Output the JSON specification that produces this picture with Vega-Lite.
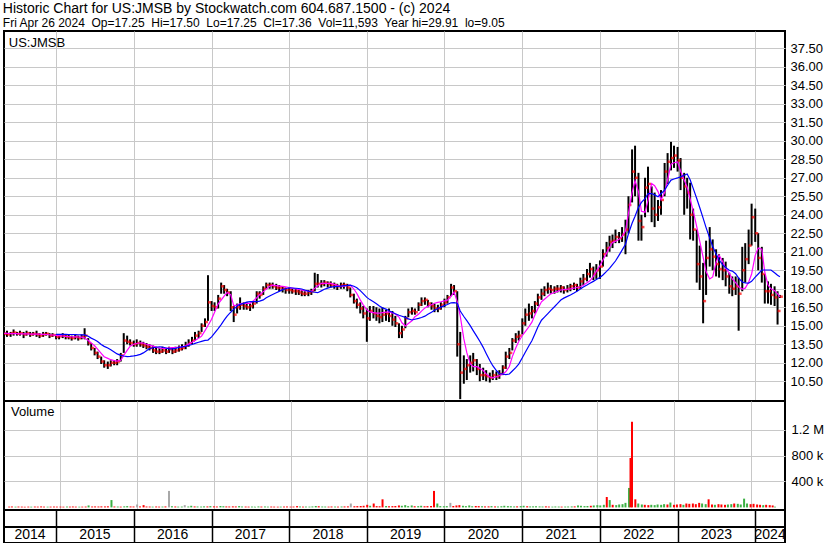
{
"$schema":"https://vega.github.io/schema/vega-lite/v6.json",
"background":"white",
"padding":{"left":0,"top":2,"right":0,"bottom":0},
"spacing":0,
"bounds":"flush",
"title":{"text":"Historic Chart for US:JMSB by Stockwatch.com 604.687.1500 - (c) 2024","subtitle":"Fri Apr 26 2024\u00a0 Op=17.25\u00a0 Hi=17.50\u00a0 Lo=17.25\u00a0 Cl=17.36\u00a0 Vol=11,593\u00a0 Year hi=29.91\u00a0 lo=9.05","anchor":"start","frame":"bounds","offset":1,"dx":2,"fontSize":14,"fontWeight":"normal","font":"Liberation Sans","color":"black","subtitleFont":"Liberation Sans","subtitleFontSize":12,"subtitleFontWeight":"normal","subtitleColor":"black","subtitlePadding":2},
"config":{"view":{"stroke":"black","strokeWidth":2},"axis":{"ticks":false,"domain":false,"labelFont":"Liberation Sans","labelFontSize":13,"labelColor":"black","gridColor":"#c8c8c8","gridWidth":1}},
"datasets":{
"yrs":[{"yr":"2014","s":"2014-05-01","e":"2015-01-01"},{"yr":"2015","s":"2015-01-01","e":"2016-01-01"},{"yr":"2016","s":"2016-01-01","e":"2017-01-01"},{"yr":"2017","s":"2017-01-01","e":"2018-01-01"},{"yr":"2018","s":"2018-01-01","e":"2019-01-01"},{"yr":"2019","s":"2019-01-01","e":"2020-01-01"},{"yr":"2020","s":"2020-01-01","e":"2021-01-01"},{"yr":"2021","s":"2021-01-01","e":"2022-01-01"},{"yr":"2022","s":"2022-01-01","e":"2023-01-01"},{"yr":"2023","s":"2023-01-01","e":"2024-01-01"},{"yr":"2024","s":"2024-01-01","e":"2024-05-20"}],
"px":[
{"t":"2014-05-02","h":14.5,"l":14.2,"c":14.35,"ma1":14.38,"v":12000,"d":"d"},
{"t":"2014-05-15","h":14.6,"l":14.1,"c":14.3,"ma1":14.38,"v":14000,"d":"d"},
{"t":"2014-06-01","h":14.5,"l":14.1,"c":14.4,"ma1":14.37,"v":11000,"d":"u"},
{"t":"2014-06-15","h":14.7,"l":14.2,"c":14.45,"ma1":14.36,"v":13000,"d":"d"},
{"t":"2014-07-01","h":14.5,"l":14.2,"c":14.35,"ma1":14.36,"v":12000,"d":"d"},
{"t":"2014-07-15","h":14.6,"l":14.2,"c":14.4,"ma1":14.35,"v":10000,"d":"d"},
{"t":"2014-08-01","h":14.5,"l":14.0,"c":14.3,"ma1":14.35,"v":12000,"d":"d"},
{"t":"2014-08-15","h":14.6,"l":14.2,"c":14.4,"ma1":14.34,"v":11000,"d":"u"},
{"t":"2014-09-01","h":14.5,"l":14.1,"c":14.3,"ma1":14.33,"v":13000,"d":"d"},
{"t":"2014-09-15","h":14.5,"l":14.2,"c":14.35,"ma1":14.33,"v":12000,"d":"d"},
{"t":"2014-10-01","h":14.6,"l":14.1,"c":14.3,"ma1":14.32,"v":15000,"d":"d"},
{"t":"2014-10-15","h":14.4,"l":14.0,"c":14.2,"ma1":14.32,"v":12000,"d":"d"},
{"t":"2014-11-01","h":14.5,"l":14.1,"c":14.3,"ma1":14.31,"v":11000,"d":"u"},
{"t":"2014-11-15","h":14.5,"l":14.2,"c":14.35,"ma1":14.29,"v":12000,"d":"d"},
{"t":"2014-12-01","h":14.4,"l":14.0,"c":14.2,"ma1":14.27,"v":13000,"d":"d"},
{"t":"2014-12-15","h":14.4,"l":14.1,"c":14.25,"ma1":14.25,"v":12000,"d":"d"},
{"t":"2015-01-01","h":14.3,"l":13.9,"c":14.1,"ma1":14.22,"ma2":14.31,"v":12000,"d":"d"},
{"t":"2015-01-15","h":14.3,"l":13.9,"c":14.15,"ma1":14.2,"ma2":14.31,"v":11000,"d":"d"},
{"t":"2015-02-01","h":14.4,"l":14.0,"c":14.2,"ma1":14.17,"ma2":14.3,"v":13000,"d":"u"},
{"t":"2015-02-15","h":14.3,"l":13.9,"c":14.1,"ma1":14.14,"ma2":14.3,"v":12000,"d":"d"},
{"t":"2015-03-01","h":14.3,"l":13.9,"c":14.05,"ma1":14.12,"ma2":14.29,"v":14000,"d":"d"},
{"t":"2015-03-15","h":14.2,"l":13.8,"c":14.0,"ma1":14.11,"ma2":14.29,"v":12000,"d":"d"},
{"t":"2015-04-01","h":14.3,"l":13.9,"c":14.1,"ma1":14.1,"ma2":14.28,"v":11000,"d":"u"},
{"t":"2015-04-15","h":14.2,"l":13.8,"c":14.0,"ma1":14.09,"ma2":14.27,"v":12000,"d":"d"},
{"t":"2015-05-01","h":14.3,"l":13.9,"c":14.1,"ma1":14.08,"ma2":14.26,"v":13000,"d":"d"},
{"t":"2015-05-15","h":14.8,"l":13.9,"c":14.2,"ma1":14.01,"ma2":14.26,"v":30000,"d":"u"},
{"t":"2015-06-01","h":14.0,"l":13.4,"c":13.6,"ma1":13.8,"ma2":14.15,"v":14000,"d":"d"},
{"t":"2015-06-15","h":13.6,"l":13.0,"c":13.2,"ma1":13.61,"ma2":14.0,"v":15000,"d":"d"},
{"t":"2015-07-01","h":13.2,"l":12.6,"c":12.8,"ma1":13.38,"ma2":13.87,"v":14000,"d":"d"},
{"t":"2015-07-15","h":12.9,"l":12.3,"c":12.5,"ma1":13.1,"ma2":13.73,"v":16000,"d":"d"},
{"t":"2015-08-01","h":12.5,"l":11.9,"c":12.1,"ma1":12.76,"ma2":13.48,"v":15000,"d":"d"},
{"t":"2015-08-15","h":12.2,"l":11.6,"c":11.8,"ma1":12.49,"ma2":13.33,"v":17000,"d":"d"},
{"t":"2015-09-01","h":12.1,"l":11.5,"c":11.8,"ma1":12.36,"ma2":13.2,"v":113000,"d":"u"},
{"t":"2015-09-15","h":12.2,"l":11.7,"c":12.0,"ma1":12.25,"ma2":13.05,"v":14000,"d":"d"},
{"t":"2015-10-01","h":12.2,"l":11.8,"c":12.0,"ma1":12.18,"ma2":12.88,"v":13000,"d":"u"},
{"t":"2015-10-15","h":12.3,"l":11.8,"c":12.1,"ma1":12.13,"ma2":12.72,"v":12000,"d":"d"},
{"t":"2015-11-01","h":12.8,"l":12.1,"c":12.6,"ma1":12.2,"ma2":12.6,"v":16000,"d":"u"},
{"t":"2015-11-15","h":14.4,"l":12.8,"c":13.8,"ma1":12.6,"ma2":12.55,"v":20000,"d":"u"},
{"t":"2015-12-01","h":14.2,"l":13.5,"c":13.7,"ma1":13.0,"ma2":12.5,"v":15000,"d":"d"},
{"t":"2015-12-15","h":13.9,"l":13.4,"c":13.6,"ma1":13.35,"ma2":12.52,"v":14000,"d":"d"},
{"t":"2016-01-01","h":13.8,"l":13.3,"c":13.5,"ma1":13.5,"ma2":12.56,"v":45000,"d":"n"},
{"t":"2016-01-15","h":13.9,"l":13.3,"c":13.6,"ma1":13.56,"ma2":12.6,"v":15000,"d":"d"},
{"t":"2016-02-01","h":13.8,"l":13.3,"c":13.5,"ma1":13.62,"ma2":12.68,"v":35000,"d":"d"},
{"t":"2016-02-15","h":13.7,"l":13.2,"c":13.4,"ma1":13.6,"ma2":12.8,"v":14000,"d":"d"},
{"t":"2016-03-01","h":13.6,"l":13.1,"c":13.3,"ma1":13.5,"ma2":12.98,"v":13000,"d":"d"},
{"t":"2016-03-15","h":13.5,"l":13.0,"c":13.2,"ma1":13.43,"ma2":13.15,"v":12000,"d":"u"},
{"t":"2016-04-01","h":13.4,"l":12.8,"c":13.0,"ma1":13.35,"ma2":13.22,"v":14000,"d":"d"},
{"t":"2016-04-15","h":13.3,"l":12.7,"c":12.9,"ma1":13.27,"ma2":13.26,"v":12000,"d":"d"},
{"t":"2016-05-01","h":13.2,"l":12.7,"c":12.9,"ma1":13.19,"ma2":13.3,"v":13000,"d":"u"},
{"t":"2016-05-15","h":13.3,"l":12.8,"c":13.0,"ma1":13.16,"ma2":13.28,"v":15000,"d":"d"},
{"t":"2016-06-01","h":13.2,"l":12.7,"c":12.9,"ma1":13.17,"ma2":13.2,"v":254000,"d":"n"},
{"t":"2016-06-15","h":13.3,"l":12.8,"c":13.1,"ma1":13.2,"ma2":13.13,"v":18000,"d":"u"},
{"t":"2016-07-01","h":13.2,"l":12.7,"c":12.9,"ma1":13.22,"ma2":13.12,"v":14000,"d":"d"},
{"t":"2016-07-15","h":13.3,"l":12.8,"c":13.0,"ma1":13.24,"ma2":13.17,"v":12000,"d":"u"},
{"t":"2016-08-01","h":13.4,"l":12.9,"c":13.1,"ma1":13.27,"ma2":13.24,"v":13000,"d":"u"},
{"t":"2016-08-15","h":13.5,"l":13.0,"c":13.2,"ma1":13.29,"ma2":13.29,"v":35000,"d":"n"},
{"t":"2016-09-01","h":13.7,"l":13.1,"c":13.4,"ma1":13.37,"ma2":13.33,"v":14000,"d":"u"},
{"t":"2016-09-15","h":13.9,"l":13.3,"c":13.6,"ma1":13.51,"ma2":13.4,"v":25000,"d":"u"},
{"t":"2016-10-01","h":14.1,"l":13.5,"c":13.8,"ma1":13.67,"ma2":13.48,"v":15000,"d":"d"},
{"t":"2016-10-15","h":14.5,"l":13.8,"c":14.2,"ma1":13.81,"ma2":13.57,"v":14000,"d":"u"},
{"t":"2016-11-01","h":14.6,"l":14.0,"c":14.4,"ma1":13.98,"ma2":13.66,"v":13000,"d":"u"},
{"t":"2016-11-15","h":15.2,"l":14.5,"c":15.0,"ma1":14.16,"ma2":13.74,"v":16000,"d":"u"},
{"t":"2016-12-01","h":15.6,"l":14.9,"c":15.3,"ma1":14.61,"ma2":13.82,"v":15000,"d":"d"},
{"t":"2016-12-15","h":19.1,"l":15.4,"c":16.9,"ma1":15.02,"ma2":13.84,"v":20000,"d":"u"},
{"t":"2017-01-01","h":17.0,"l":16.2,"c":16.6,"ma1":15.52,"ma2":14.1,"v":16000,"d":"d"},
{"t":"2017-01-15","h":16.9,"l":16.2,"c":16.5,"ma1":16.1,"ma2":14.4,"v":14000,"d":"d"},
{"t":"2017-02-01","h":17.5,"l":16.4,"c":17.2,"ma1":16.78,"ma2":14.77,"v":22000,"d":"u"},
{"t":"2017-02-15","h":18.5,"l":17.6,"c":18.2,"ma1":17.08,"ma2":15.1,"v":18000,"d":"u"},
{"t":"2017-03-01","h":18.3,"l":17.6,"c":17.9,"ma1":17.41,"ma2":15.46,"v":15000,"d":"d"},
{"t":"2017-03-15","h":18.0,"l":17.4,"c":17.7,"ma1":17.7,"ma2":15.79,"v":14000,"d":"d"},
{"t":"2017-04-01","h":17.8,"l":16.2,"c":16.5,"ma1":17.52,"ma2":16.1,"v":16000,"d":"d"},
{"t":"2017-04-15","h":16.6,"l":15.3,"c":15.9,"ma1":16.63,"ma2":16.33,"v":15000,"d":"d"},
{"t":"2017-05-01","h":16.8,"l":16.0,"c":16.5,"ma1":16.67,"ma2":16.6,"v":20000,"d":"u"},
{"t":"2017-05-15","h":17.3,"l":16.3,"c":16.7,"ma1":16.79,"ma2":16.74,"v":14000,"d":"u"},
{"t":"2017-06-01","h":16.9,"l":16.3,"c":16.6,"ma1":16.82,"ma2":16.82,"v":13000,"d":"d"},
{"t":"2017-06-15","h":16.9,"l":16.3,"c":16.5,"ma1":16.82,"ma2":16.92,"v":12000,"d":"d"},
{"t":"2017-07-01","h":16.8,"l":16.2,"c":16.6,"ma1":16.82,"ma2":16.95,"v":13000,"d":"u"},
{"t":"2017-07-15","h":17.0,"l":16.4,"c":16.8,"ma1":17.0,"ma2":16.95,"v":12000,"d":"u"},
{"t":"2017-08-01","h":17.8,"l":16.8,"c":17.6,"ma1":17.27,"ma2":16.95,"v":15000,"d":"u"},
{"t":"2017-08-15","h":17.8,"l":17.2,"c":17.5,"ma1":17.52,"ma2":17.0,"v":13000,"d":"d"},
{"t":"2017-09-01","h":18.2,"l":17.5,"c":18.0,"ma1":17.77,"ma2":17.1,"v":14000,"d":"u"},
{"t":"2017-09-15","h":18.5,"l":18.0,"c":18.3,"ma1":17.97,"ma2":17.27,"v":12000,"d":"u"},
{"t":"2017-10-01","h":18.5,"l":18.0,"c":18.3,"ma1":18.21,"ma2":17.42,"v":13000,"d":"d"},
{"t":"2017-10-15","h":18.5,"l":18.0,"c":18.2,"ma1":18.29,"ma2":17.54,"v":12000,"d":"d"},
{"t":"2017-11-01","h":18.4,"l":17.9,"c":18.1,"ma1":18.25,"ma2":17.68,"v":11000,"d":"d"},
{"t":"2017-11-15","h":18.3,"l":17.8,"c":18.1,"ma1":18.22,"ma2":17.79,"v":12000,"d":"u"},
{"t":"2017-12-01","h":18.2,"l":17.7,"c":18.0,"ma1":18.19,"ma2":17.93,"v":13000,"d":"d"},
{"t":"2017-12-15","h":18.1,"l":17.6,"c":17.9,"ma1":18.15,"ma2":18.0,"v":14000,"d":"d"},
{"t":"2018-01-01","h":18.1,"l":17.6,"c":17.9,"ma1":18.1,"ma2":18.08,"v":12000,"d":"d"},
{"t":"2018-01-15","h":18.0,"l":17.6,"c":17.8,"ma1":18.05,"ma2":18.06,"v":13000,"d":"d"},
{"t":"2018-02-01","h":18.0,"l":17.5,"c":17.8,"ma1":17.99,"ma2":18.04,"v":20000,"d":"d"},
{"t":"2018-02-15","h":17.9,"l":17.5,"c":17.7,"ma1":17.94,"ma2":18.02,"v":14000,"d":"u"},
{"t":"2018-03-01","h":17.9,"l":17.4,"c":17.6,"ma1":17.89,"ma2":17.98,"v":12000,"d":"d"},
{"t":"2018-03-15","h":17.8,"l":17.4,"c":17.6,"ma1":17.85,"ma2":17.9,"v":13000,"d":"u"},
{"t":"2018-04-01","h":17.9,"l":17.4,"c":17.7,"ma1":17.8,"ma2":17.81,"v":12000,"d":"u"},
{"t":"2018-04-15","h":18.0,"l":17.5,"c":17.8,"ma1":17.79,"ma2":17.76,"v":15000,"d":"u"},
{"t":"2018-05-01","h":19.3,"l":17.8,"c":18.4,"ma1":18.03,"ma2":17.72,"v":22000,"d":"u"},
{"t":"2018-05-15","h":19.2,"l":18.1,"c":18.4,"ma1":18.24,"ma2":17.68,"v":18000,"d":"d"},
{"t":"2018-06-01","h":18.7,"l":18.1,"c":18.4,"ma1":18.44,"ma2":17.83,"v":14000,"d":"u"},
{"t":"2018-06-15","h":18.7,"l":18.2,"c":18.5,"ma1":18.44,"ma2":17.96,"v":13000,"d":"u"},
{"t":"2018-07-01","h":18.6,"l":18.1,"c":18.4,"ma1":18.44,"ma2":18.05,"v":12000,"d":"d"},
{"t":"2018-07-15","h":18.6,"l":18.1,"c":18.3,"ma1":18.44,"ma2":18.13,"v":14000,"d":"d"},
{"t":"2018-08-01","h":18.5,"l":18.0,"c":18.3,"ma1":18.36,"ma2":18.17,"v":13000,"d":"u"},
{"t":"2018-08-15","h":18.4,"l":17.9,"c":18.2,"ma1":18.28,"ma2":18.2,"v":12000,"d":"d"},
{"t":"2018-09-01","h":18.5,"l":18.0,"c":18.3,"ma1":18.18,"ma2":18.22,"v":14000,"d":"u"},
{"t":"2018-09-15","h":18.5,"l":18.0,"c":18.3,"ma1":18.22,"ma2":18.25,"v":15000,"d":"d"},
{"t":"2018-10-01","h":18.4,"l":17.8,"c":18.1,"ma1":18.25,"ma2":18.27,"v":16000,"d":"d"},
{"t":"2018-10-15","h":18.1,"l":17.3,"c":17.5,"ma1":18.29,"ma2":18.3,"v":60000,"d":"n"},
{"t":"2018-11-01","h":17.6,"l":16.8,"c":17.0,"ma1":17.98,"ma2":18.2,"v":18000,"d":"d"},
{"t":"2018-11-15","h":17.2,"l":16.4,"c":16.7,"ma1":17.62,"ma2":18.08,"v":20000,"d":"d"},
{"t":"2018-12-01","h":16.9,"l":16.0,"c":16.4,"ma1":17.1,"ma2":17.85,"v":22000,"d":"d"},
{"t":"2018-12-15","h":16.6,"l":15.6,"c":16.0,"ma1":16.7,"ma2":17.6,"v":25000,"d":"d"},
{"t":"2019-01-01","h":16.4,"l":13.7,"c":15.6,"ma1":16.3,"ma2":17.3,"v":40000,"d":"d"},
{"t":"2019-01-15","h":16.6,"l":15.4,"c":16.2,"ma1":16.12,"ma2":17.12,"v":25000,"d":"u"},
{"t":"2019-02-01","h":16.6,"l":15.6,"c":16.0,"ma1":16.07,"ma2":16.94,"v":60000,"d":"d"},
{"t":"2019-02-15","h":16.5,"l":15.4,"c":15.8,"ma1":16.03,"ma2":16.78,"v":20000,"d":"d"},
{"t":"2019-03-01","h":16.4,"l":15.2,"c":15.7,"ma1":16.02,"ma2":16.6,"v":18000,"d":"d"},
{"t":"2019-03-15","h":16.5,"l":15.3,"c":15.9,"ma1":16.06,"ma2":16.45,"v":125000,"d":"d"},
{"t":"2019-04-01","h":16.3,"l":15.4,"c":16.0,"ma1":16.11,"ma2":16.35,"v":22000,"d":"u"},
{"t":"2019-04-15","h":16.4,"l":15.3,"c":15.8,"ma1":16.12,"ma2":16.22,"v":18000,"d":"d"},
{"t":"2019-05-01","h":16.2,"l":15.0,"c":15.5,"ma1":16.05,"ma2":16.1,"v":20000,"d":"d"},
{"t":"2019-05-15","h":15.8,"l":14.9,"c":15.2,"ma1":15.96,"ma2":15.98,"v":22000,"d":"d"},
{"t":"2019-06-01","h":15.2,"l":14.0,"c":14.4,"ma1":15.71,"ma2":15.85,"v":30000,"d":"d"},
{"t":"2019-06-15","h":15.0,"l":14.0,"c":14.7,"ma1":15.24,"ma2":15.77,"v":25000,"d":"u"},
{"t":"2019-07-01","h":15.8,"l":14.8,"c":15.6,"ma1":14.99,"ma2":15.68,"v":35000,"d":"u"},
{"t":"2019-07-15","h":16.4,"l":15.7,"c":16.1,"ma1":15.18,"ma2":15.56,"v":20000,"d":"u"},
{"t":"2019-08-01","h":16.5,"l":15.9,"c":16.2,"ma1":15.41,"ma2":15.47,"v":30000,"d":"u"},
{"t":"2019-08-15","h":16.4,"l":15.9,"c":16.1,"ma1":15.74,"ma2":15.53,"v":18000,"d":"d"},
{"t":"2019-09-01","h":16.9,"l":16.2,"c":16.7,"ma1":15.94,"ma2":15.6,"v":20000,"d":"u"},
{"t":"2019-09-15","h":17.3,"l":16.6,"c":17.0,"ma1":16.19,"ma2":15.67,"v":25000,"d":"u"},
{"t":"2019-10-01","h":17.3,"l":16.7,"c":17.1,"ma1":16.45,"ma2":15.78,"v":18000,"d":"d"},
{"t":"2019-10-15","h":17.1,"l":16.5,"c":16.8,"ma1":16.57,"ma2":15.93,"v":20000,"d":"d"},
{"t":"2019-11-01","h":16.9,"l":16.3,"c":16.6,"ma1":16.71,"ma2":16.1,"v":22000,"d":"d"},
{"t":"2019-11-15","h":16.8,"l":16.1,"c":16.4,"ma1":16.83,"ma2":16.26,"v":254000,"d":"d"},
{"t":"2019-12-01","h":16.7,"l":16.1,"c":16.4,"ma1":16.9,"ma2":16.4,"v":60000,"d":"u"},
{"t":"2019-12-15","h":16.9,"l":16.3,"c":16.7,"ma1":16.95,"ma2":16.51,"v":20000,"d":"u"},
{"t":"2020-01-01","h":17.2,"l":16.5,"c":16.9,"ma1":17.02,"ma2":16.63,"v":18000,"d":"u"},
{"t":"2020-01-15","h":17.5,"l":16.8,"c":17.3,"ma1":17.08,"ma2":16.72,"v":20000,"d":"u"},
{"t":"2020-02-01","h":18.4,"l":17.4,"c":18.1,"ma1":17.39,"ma2":16.86,"v":70000,"d":"n"},
{"t":"2020-02-15","h":18.3,"l":17.5,"c":17.8,"ma1":17.74,"ma2":16.87,"v":22000,"d":"d"},
{"t":"2020-03-01","h":17.8,"l":12.5,"c":13.5,"ma1":16.96,"ma2":16.83,"v":30000,"d":"d"},
{"t":"2020-03-15","h":14.5,"l":9.05,"c":11.2,"ma1":15.8,"ma2":16.2,"v":35000,"d":"d"},
{"t":"2020-04-01","h":12.6,"l":10.3,"c":11.5,"ma1":13.93,"ma2":15.75,"v":25000,"d":"u"},
{"t":"2020-04-15","h":12.3,"l":10.6,"c":11.8,"ma1":12.82,"ma2":15.41,"v":20000,"d":"u"},
{"t":"2020-05-01","h":12.6,"l":11.2,"c":12.0,"ma1":11.9,"ma2":15.01,"v":30000,"d":"u"},
{"t":"2020-05-15","h":12.8,"l":11.3,"c":12.2,"ma1":11.68,"ma2":14.61,"v":18000,"d":"u"},
{"t":"2020-06-01","h":12.3,"l":11.0,"c":11.5,"ma1":11.68,"ma2":14.14,"v":22000,"d":"d"},
{"t":"2020-06-15","h":11.9,"l":10.5,"c":11.0,"ma1":11.56,"ma2":13.75,"v":20000,"d":"d"},
{"t":"2020-07-01","h":11.6,"l":10.6,"c":11.0,"ma1":11.37,"ma2":13.25,"v":18000,"d":"u"},
{"t":"2020-07-15","h":11.4,"l":10.5,"c":10.9,"ma1":11.1,"ma2":12.76,"v":15000,"d":"d"},
{"t":"2020-08-01","h":11.2,"l":10.4,"c":10.8,"ma1":10.84,"ma2":12.19,"v":16000,"d":"d"},
{"t":"2020-08-15","h":11.4,"l":10.6,"c":11.0,"ma1":10.78,"ma2":11.76,"v":20000,"d":"u"},
{"t":"2020-09-01","h":11.3,"l":10.6,"c":10.9,"ma1":10.87,"ma2":11.37,"v":15000,"d":"d"},
{"t":"2020-09-15","h":11.4,"l":10.7,"c":11.1,"ma1":10.95,"ma2":11.12,"v":14000,"d":"u"},
{"t":"2020-10-01","h":11.8,"l":11.0,"c":11.6,"ma1":11.09,"ma2":11.09,"v":18000,"d":"u"},
{"t":"2020-10-15","h":12.9,"l":11.5,"c":12.5,"ma1":11.27,"ma2":11.04,"v":25000,"d":"u"},
{"t":"2020-11-01","h":13.2,"l":12.3,"c":12.8,"ma1":11.7,"ma2":11.09,"v":20000,"d":"u"},
{"t":"2020-11-15","h":14.0,"l":13.0,"c":13.8,"ma1":12.5,"ma2":11.33,"v":18000,"d":"u"},
{"t":"2020-12-01","h":14.4,"l":13.6,"c":14.1,"ma1":13.2,"ma2":11.6,"v":15000,"d":"u"},
{"t":"2020-12-15","h":14.6,"l":13.8,"c":14.2,"ma1":13.72,"ma2":11.89,"v":16000,"d":"d"},
{"t":"2021-01-01","h":15.6,"l":14.3,"c":15.2,"ma1":14.21,"ma2":12.41,"v":20000,"d":"u"},
{"t":"2021-01-15","h":16.4,"l":15.0,"c":15.9,"ma1":14.53,"ma2":12.86,"v":25000,"d":"u"},
{"t":"2021-02-01","h":16.8,"l":15.4,"c":16.0,"ma1":14.92,"ma2":13.38,"v":18000,"d":"d"},
{"t":"2021-02-15","h":16.6,"l":15.6,"c":16.2,"ma1":15.29,"ma2":13.78,"v":15000,"d":"u"},
{"t":"2021-03-01","h":17.0,"l":16.0,"c":16.8,"ma1":15.88,"ma2":14.33,"v":16000,"d":"u"},
{"t":"2021-03-15","h":17.6,"l":16.6,"c":17.3,"ma1":16.39,"ma2":14.9,"v":18000,"d":"u"},
{"t":"2021-04-01","h":18.0,"l":17.1,"c":17.6,"ma1":16.94,"ma2":15.45,"v":15000,"d":"u"},
{"t":"2021-04-15","h":18.2,"l":17.4,"c":17.9,"ma1":17.15,"ma2":15.7,"v":14000,"d":"u"},
{"t":"2021-05-01","h":18.5,"l":17.6,"c":18.0,"ma1":17.38,"ma2":15.99,"v":16000,"d":"d"},
{"t":"2021-05-15","h":18.3,"l":17.6,"c":17.9,"ma1":17.59,"ma2":16.25,"v":13000,"d":"d"},
{"t":"2021-06-01","h":18.2,"l":17.6,"c":18.0,"ma1":17.7,"ma2":16.54,"v":12000,"d":"u"},
{"t":"2021-06-15","h":18.3,"l":17.7,"c":18.0,"ma1":17.79,"ma2":16.79,"v":14000,"d":"u"},
{"t":"2021-07-01","h":18.3,"l":17.7,"c":18.1,"ma1":17.9,"ma2":17.09,"v":13000,"d":"u"},
{"t":"2021-07-15","h":18.2,"l":17.6,"c":17.9,"ma1":17.93,"ma2":17.24,"v":12000,"d":"d"},
{"t":"2021-08-01","h":18.3,"l":17.7,"c":18.0,"ma1":17.96,"ma2":17.38,"v":13000,"d":"u"},
{"t":"2021-08-15","h":18.4,"l":17.8,"c":18.2,"ma1":17.99,"ma2":17.5,"v":14000,"d":"u"},
{"t":"2021-09-01","h":18.5,"l":17.9,"c":18.3,"ma1":18.05,"ma2":17.66,"v":15000,"d":"u"},
{"t":"2021-09-15","h":18.4,"l":17.8,"c":18.1,"ma1":18.1,"ma2":17.8,"v":16000,"d":"d"},
{"t":"2021-10-01","h":18.9,"l":18.0,"c":18.6,"ma1":18.16,"ma2":17.99,"v":30000,"d":"u"},
{"t":"2021-10-15","h":19.2,"l":18.3,"c":18.8,"ma1":18.29,"ma2":18.14,"v":25000,"d":"u"},
{"t":"2021-11-01","h":19.6,"l":18.6,"c":19.2,"ma1":18.48,"ma2":18.3,"v":20000,"d":"u"},
{"t":"2021-11-15","h":20.1,"l":18.9,"c":19.6,"ma1":18.64,"ma2":18.44,"v":22000,"d":"u"},
{"t":"2021-12-01","h":19.8,"l":18.7,"c":19.2,"ma1":19.01,"ma2":18.6,"v":25000,"d":"d"},
{"t":"2021-12-15","h":20.0,"l":18.8,"c":19.5,"ma1":19.41,"ma2":18.75,"v":30000,"d":"u"},
{"t":"2022-01-01","h":20.3,"l":18.8,"c":19.8,"ma1":19.88,"ma2":18.92,"v":35000,"d":"u"},
{"t":"2022-01-15","h":21.2,"l":19.8,"c":20.8,"ma1":20.33,"ma2":19.12,"v":30000,"d":"u"},
{"t":"2022-02-01","h":21.8,"l":20.6,"c":21.3,"ma1":20.89,"ma2":19.41,"v":40000,"d":"u"},
{"t":"2022-02-15","h":22.3,"l":21.0,"c":21.8,"ma1":21.37,"ma2":19.66,"v":160000,"d":"d"},
{"t":"2022-03-01","h":22.4,"l":21.3,"c":21.9,"ma1":21.75,"ma2":19.95,"v":113000,"d":"u"},
{"t":"2022-03-15","h":22.8,"l":21.7,"c":22.2,"ma1":21.86,"ma2":20.25,"v":40000,"d":"d"},
{"t":"2022-04-01","h":22.6,"l":21.7,"c":22.1,"ma1":22.01,"ma2":20.73,"v":35000,"d":"u"},
{"t":"2022-04-15","h":23.0,"l":21.8,"c":22.4,"ma1":22.24,"ma2":21.13,"v":45000,"d":"u"},
{"t":"2022-05-01","h":23.6,"l":20.8,"c":22.8,"ma1":22.69,"ma2":21.61,"v":50000,"d":"u"},
{"t":"2022-05-15","h":25.5,"l":22.5,"c":24.8,"ma1":24.11,"ma2":22.46,"v":70000,"d":"u"},
{"t":"2022-06-01","h":29.3,"l":25.0,"c":27.5,"ma1":25.79,"ma2":23.31,"v":300000,"d":"u"},
{"t":"2022-06-15","h":29.6,"l":25.5,"c":27.0,"ma1":26.76,"ma2":23.88,"v":1320000,"d":"d"},
{"t":"2022-07-01","h":27.4,"l":21.9,"c":23.5,"ma1":25.87,"ma2":24.6,"v":125000,"d":"d"},
{"t":"2022-07-15","h":24.0,"l":21.9,"c":23.0,"ma1":24.28,"ma2":25.0,"v":60000,"d":"u"},
{"t":"2022-08-01","h":27.0,"l":23.8,"c":26.2,"ma1":24.21,"ma2":25.3,"v":45000,"d":"u"},
{"t":"2022-08-15","h":27.9,"l":24.2,"c":26.5,"ma1":25.17,"ma2":25.72,"v":40000,"d":"d"},
{"t":"2022-09-01","h":26.3,"l":23.4,"c":24.5,"ma1":26.53,"ma2":25.72,"v":35000,"d":"d"},
{"t":"2022-09-15","h":25.8,"l":23.0,"c":24.0,"ma1":26.36,"ma2":25.61,"v":40000,"d":"u"},
{"t":"2022-10-01","h":25.2,"l":23.5,"c":24.6,"ma1":25.88,"ma2":25.46,"v":35000,"d":"u"},
{"t":"2022-10-15","h":26.0,"l":24.0,"c":25.2,"ma1":25.22,"ma2":25.7,"v":45000,"d":"u"},
{"t":"2022-11-01","h":28.2,"l":25.5,"c":27.5,"ma1":25.8,"ma2":26.0,"v":40000,"d":"u"},
{"t":"2022-11-15","h":29.0,"l":26.5,"c":28.3,"ma1":26.84,"ma2":26.39,"v":50000,"d":"u"},
{"t":"2022-12-01","h":29.91,"l":27.6,"c":28.6,"ma1":28.1,"ma2":26.81,"v":45000,"d":"d"},
{"t":"2022-12-15","h":29.6,"l":27.8,"c":28.8,"ma1":28.22,"ma2":26.9,"v":75000,"d":"u"},
{"t":"2023-01-01","h":29.5,"l":27.5,"c":28.4,"ma1":28.29,"ma2":26.99,"v":40000,"d":"d"},
{"t":"2023-01-15","h":28.6,"l":26.0,"c":27.0,"ma1":27.55,"ma2":27.07,"v":45000,"d":"d"},
{"t":"2023-02-01","h":27.4,"l":24.0,"c":26.3,"ma1":26.82,"ma2":27.2,"v":50000,"d":"d"},
{"t":"2023-02-15","h":27.0,"l":24.5,"c":25.8,"ma1":26.23,"ma2":27.31,"v":40000,"d":"u"},
{"t":"2023-03-01","h":26.6,"l":22.0,"c":24.0,"ma1":25.28,"ma2":26.84,"v":60000,"d":"d"},
{"t":"2023-03-15","h":24.5,"l":21.9,"c":22.8,"ma1":24.34,"ma2":26.16,"v":55000,"d":"d"},
{"t":"2023-04-01","h":22.8,"l":18.5,"c":20.0,"ma1":23.04,"ma2":25.32,"v":60000,"d":"d"},
{"t":"2023-04-15","h":21.5,"l":17.9,"c":19.0,"ma1":21.87,"ma2":24.59,"v":50000,"d":"d"},
{"t":"2023-05-01","h":20.1,"l":15.2,"c":17.0,"ma1":20.56,"ma2":23.73,"v":70000,"d":"d"},
{"t":"2023-05-15","h":21.9,"l":17.5,"c":20.5,"ma1":19.4,"ma2":22.96,"v":60000,"d":"u"},
{"t":"2023-06-01","h":23.0,"l":19.8,"c":21.2,"ma1":18.8,"ma2":22.11,"v":50000,"d":"u"},
{"t":"2023-06-15","h":22.0,"l":19.5,"c":20.6,"ma1":18.96,"ma2":21.43,"v":125000,"d":"d"},
{"t":"2023-07-01","h":21.2,"l":19.0,"c":20.0,"ma1":20.15,"ma2":20.82,"v":45000,"d":"d"},
{"t":"2023-07-15","h":20.8,"l":18.9,"c":19.6,"ma1":20.72,"ma2":20.35,"v":40000,"d":"u"},
{"t":"2023-08-01","h":20.5,"l":18.7,"c":19.5,"ma1":20.2,"ma2":19.94,"v":50000,"d":"d"},
{"t":"2023-08-15","h":20.2,"l":18.2,"c":19.0,"ma1":19.65,"ma2":19.73,"v":45000,"d":"d"},
{"t":"2023-09-01","h":19.3,"l":17.6,"c":18.2,"ma1":19.27,"ma2":19.5,"v":40000,"d":"d"},
{"t":"2023-09-15","h":19.0,"l":17.4,"c":18.0,"ma1":18.8,"ma2":19.43,"v":45000,"d":"u"},
{"t":"2023-10-01","h":19.0,"l":17.5,"c":18.2,"ma1":18.49,"ma2":19.22,"v":50000,"d":"u"},
{"t":"2023-10-15","h":18.9,"l":14.6,"c":17.6,"ma1":18.15,"ma2":18.87,"v":60000,"d":"d"},
{"t":"2023-11-01","h":21.4,"l":17.8,"c":19.5,"ma1":17.98,"ma2":18.55,"v":55000,"d":"u"},
{"t":"2023-11-15","h":21.7,"l":18.5,"c":20.4,"ma1":18.05,"ma2":18.48,"v":45000,"d":"u"},
{"t":"2023-12-01","h":22.8,"l":20.0,"c":21.5,"ma1":18.53,"ma2":18.45,"v":135000,"d":"u"},
{"t":"2023-12-15","h":24.9,"l":21.5,"c":23.8,"ma1":19.2,"ma2":18.6,"v":60000,"d":"u"},
{"t":"2024-01-01","h":24.5,"l":21.8,"c":22.5,"ma1":20.71,"ma2":18.95,"v":50000,"d":"d"},
{"t":"2024-01-15","h":22.5,"l":19.5,"c":20.5,"ma1":21.3,"ma2":19.2,"v":55000,"d":"d"},
{"t":"2024-02-01","h":21.4,"l":18.5,"c":19.2,"ma1":21.2,"ma2":19.52,"v":45000,"d":"d"},
{"t":"2024-02-15","h":19.2,"l":16.8,"c":17.8,"ma1":19.35,"ma2":19.52,"v":40000,"d":"d"},
{"t":"2024-03-01","h":18.6,"l":16.8,"c":17.8,"ma1":18.3,"ma2":19.52,"v":35000,"d":"u"},
{"t":"2024-03-15","h":18.4,"l":16.7,"c":17.5,"ma1":18.0,"ma2":19.52,"v":40000,"d":"d"},
{"t":"2024-04-01","h":18.2,"l":16.6,"c":17.3,"ma1":17.85,"ma2":19.3,"v":35000,"d":"d"},
{"t":"2024-04-15","h":17.8,"l":15.1,"c":16.2,"ma1":17.6,"ma2":19.1,"v":30000,"d":"d"},
{"t":"2024-04-26","h":17.5,"l":17.25,"c":17.36,"ma1":17.35,"ma2":18.98,"v":11593,"d":"u"}
]},
"vconcat":[
{"width":781,"height":370,
 "title":{"text":"US:JMSB","anchor":"start","offset":-19,"dx":7,"fontSize":13,"fontWeight":"normal","font":"Liberation Sans","color":"black"},
 "data":{"name":"px"},
 "encoding":{"x":{"field":"t","type":"temporal","title":null,"scale":{"domain":[{"year":2014,"month":5,"date":1},{"year":2024,"month":5,"date":20}]},"axis":{"grid":true,"labels":false,"title":null,"tickCount":40,"values":[{"year":2015,"month":1,"date":1},{"year":2016,"month":1,"date":1},{"year":2017,"month":1,"date":1},{"year":2018,"month":1,"date":1},{"year":2019,"month":1,"date":1},{"year":2020,"month":1,"date":1},{"year":2021,"month":1,"date":1},{"year":2022,"month":1,"date":1},{"year":2023,"month":1,"date":1},{"year":2024,"month":1,"date":1}]}}},
 "layer":[
  {"mark":{"type":"rule","color":"black","strokeWidth":2},"encoding":{"y":{"field":"l","type":"quantitative","title":null,"scale":{"domain":[8.9,38.9],"nice":false,"zero":false},"axis":{"orient":"right","title":null,"grid":true,"format":".2f","labelPadding":5,"labelOverlap":false,"tickCount":40,"labelFontSize":13,"values":[10.5,12,13.5,15,16.5,18,19.5,21,22.5,24,25.5,27,28.5,30,31.5,33,34.5,36,37.5]}},"y2":{"field":"h"}}},
  {"mark":{"type":"tick","color":"#ff0000","orient":"horizontal","size":3,"thickness":2.5,"xOffset":1.5},"encoding":{"y":{"field":"c","type":"quantitative","title":null}}},
  {"mark":{"type":"line","color":"#ff00ff","strokeWidth":1.2},"encoding":{"y":{"field":"ma1","type":"quantitative","title":null}}},
  {"mark":{"type":"line","color":"#0000ff","strokeWidth":1.2},"encoding":{"y":{"field":"ma2","type":"quantitative","title":null}}}
 ]},
{"width":781,"height":109,
 "title":{"text":"Volume","anchor":"start","offset":-18,"dx":7,"fontSize":13,"fontWeight":"normal","font":"Liberation Sans","color":"black"},
 "encoding":{"x":{"field":"t","type":"temporal","title":null,"scale":{"domain":[{"year":2014,"month":5,"date":1},{"year":2024,"month":5,"date":20}]},"axis":{"grid":true,"labels":false,"title":null,"tickCount":40,"values":[{"year":2015,"month":1,"date":1},{"year":2016,"month":1,"date":1},{"year":2017,"month":1,"date":1},{"year":2018,"month":1,"date":1},{"year":2019,"month":1,"date":1},{"year":2020,"month":1,"date":1},{"year":2021,"month":1,"date":1},{"year":2022,"month":1,"date":1},{"year":2023,"month":1,"date":1},{"year":2024,"month":1,"date":1}]}},
  "color":{"field":"d","type":"nominal","scale":{"domain":["u","d","n"],"range":["#3cb043","#ff0000","#a8a8a8"]},"legend":null}},
 "layer":[
  {"data":{"name":"px"},"mark":{"type":"bar","width":2},"encoding":{"y":{"field":"v","type":"quantitative","title":null,"scale":{"domain":[-40000,1640000],"nice":false,"zero":false},"axis":{"orient":"right","title":null,"grid":true,"labelPadding":6,"labelOverlap":false,"tickCount":10,"values":[400000,800000,1200000],"labelExpr":"datum.value >= 1000000 ? format(datum.value/1000000, '.1f') + ' M' : format(datum.value/1000, 'd') + ' k'"}},"y2":{"datum":0}}},
  {"data":{"values":[{"t":"2022-06-08","v":762000,"d":"d"}]},"mark":{"type":"bar","width":2},"encoding":{"y":{"field":"v","type":"quantitative","title":null},"y2":{"datum":0}}}
 ]},
{"width":781,"height":33,
 "layer":[
  {"data":{"values":[{"k":1}]},"mark":{"type":"rule","color":"black","strokeWidth":2},"encoding":{"y":{"datum":0.485,"type":"quantitative","scale":{"domain":[0,1],"nice":false,"zero":false},"axis":null}}},
  {"data":{"name":"yrs"},"transform":[{"calculate":"(time(toDate(datum.s)) + time(toDate(datum.e))) / 2","as":"mid"}],
   "mark":{"type":"text","font":"Liberation Sans","fontSize":14,"color":"black","baseline":"middle","align":"center"},
   "encoding":{"x":{"field":"mid","type":"temporal","title":null,"scale":{"domain":[{"year":2014,"month":5,"date":1},{"year":2024,"month":5,"date":20}]},"axis":{"grid":true,"gridColor":"black","gridWidth":1.5,"labels":false,"title":null,"tickCount":40,"values":[{"year":2015,"month":1,"date":1},{"year":2016,"month":1,"date":1},{"year":2017,"month":1,"date":1},{"year":2018,"month":1,"date":1},{"year":2019,"month":1,"date":1},{"year":2020,"month":1,"date":1},{"year":2021,"month":1,"date":1},{"year":2022,"month":1,"date":1},{"year":2023,"month":1,"date":1},{"year":2024,"month":1,"date":1}]}},
   "y":{"datum":0.24,"type":"quantitative","axis":null},"text":{"field":"yr"}}}
 ]}
]
}
